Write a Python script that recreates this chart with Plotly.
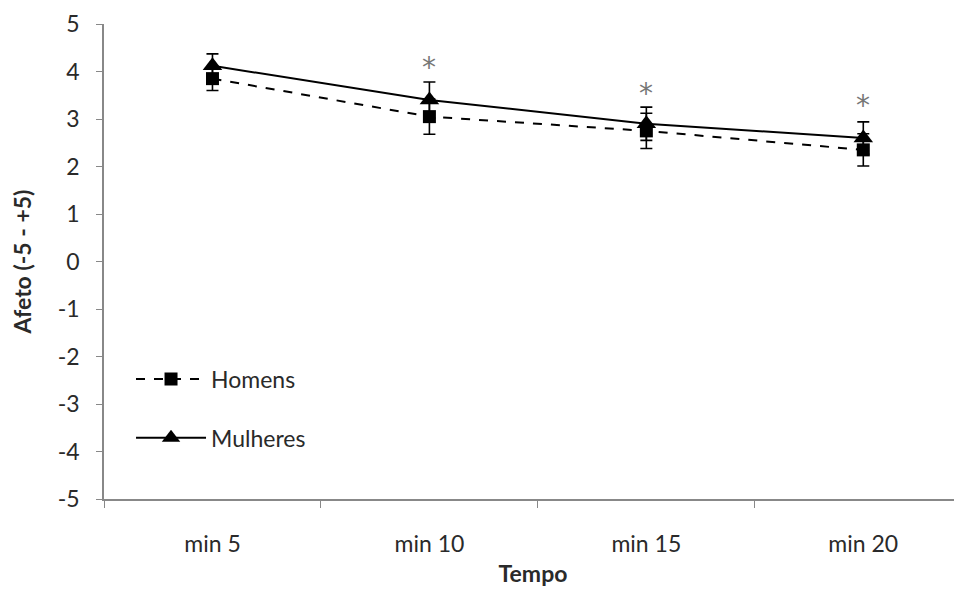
import plotly.graph_objects as go

categories = ["min 5", "min 10", "min 15", "min 20"]
homens = [3.85, 3.05, 2.75, 2.35]
homens_err = [0.25, 0.37, 0.37, 0.34]
mulheres = [4.12, 3.40, 2.90, 2.60]
mulheres_err = [0.25, 0.38, 0.35, 0.34]
star_cats = ["min 10", "min 15", "min 20"]
star_y = [4.16, 3.63, 3.36]
yticks = [-5, -4, -3, -2, -1, 0, 1, 2, 3, 4, 5]
ytick_text = [str(v) for v in yticks]

FONT = "Lato"
TXT = "#2a2a2a"
FS = 23

fig = go.Figure()
fig.add_trace(go.Scatter(
    x=categories, y=homens, name="Homens", mode="lines+markers",
    line=dict(color="black", width=2, dash="dash"),
    marker=dict(symbol="square", size=13, color="black"),
    error_y=dict(type="data", array=homens_err, color="black", thickness=1.6, width=6),
    legendgroup="h",
))
fig.add_trace(go.Scatter(
    x=categories, y=mulheres, name="Mulheres", mode="lines+markers",
    line=dict(color="black", width=2),
    marker=dict(symbol="triangle-up", size=17, color="black"),
    error_y=dict(type="data", array=mulheres_err, color="black", thickness=1.6, width=6),
    legendgroup="m",
))

for c, y in zip(star_cats, star_y):
    fig.add_annotation(x=c, y=y, text="*", showarrow=False, yshift=-4,
                       font=dict(family="DejaVu Sans", size=28, color="#777777"))

fig.update_layout(
    width=954, height=582,
    margin=dict(l=96, r=0, t=16, b=91),
    paper_bgcolor="white", plot_bgcolor="white",
    font=dict(family=FONT, size=FS, color=TXT),
    showlegend=True,
    legend=dict(x=0.0315, y=0.298, xanchor="left", yanchor="top",
                bgcolor="rgba(0,0,0,0)", font=dict(size=FS, color=TXT),
                tracegroupgap=26, traceorder="grouped", itemwidth=70),
)
fig.update_xaxes(
    type="category", categoryorder="array", categoryarray=categories,
    range=[-0.5, 3.455],
    showline=True, linecolor="#888888", linewidth=1.5,
    ticks="outside", tickson="boundaries", ticklen=7, tickcolor="#888888",
    showgrid=False, zeroline=False, ticklabelstandoff=24,
    tickfont=dict(size=FS, color=TXT),
    title=dict(text="<b>Tempo</b>", font=dict(size=FS, color=TXT), standoff=10),
)
fig.update_yaxes(
    range=[-5, 5], tickvals=yticks, ticktext=ytick_text,
    showline=True, linecolor="#888888", linewidth=1.5,
    ticks="outside", ticklen=6, tickcolor="#888888",
    showgrid=False, zeroline=False, ticklabelstandoff=12,
    tickfont=dict(size=FS, color=TXT),
    title=dict(text="<b>Afeto (-5 - +5)</b>", font=dict(size=FS, color=TXT), standoff=20),
)

fig.write_html("out.html")
